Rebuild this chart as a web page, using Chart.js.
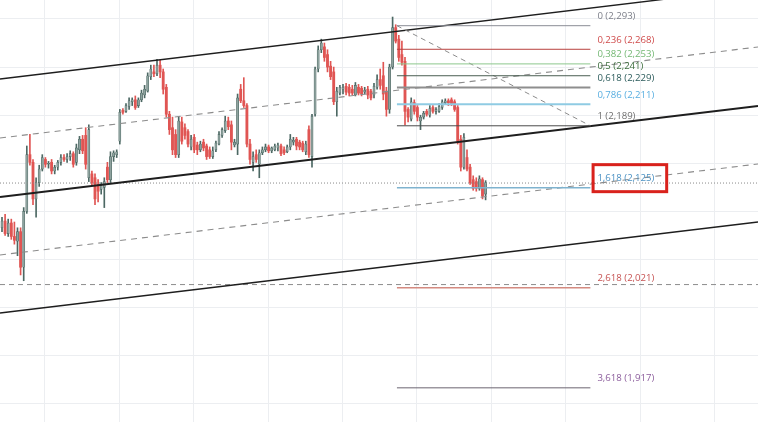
<!DOCTYPE html>
<html>
<head>
<meta charset="utf-8">
<script src="https://cdn.jsdelivr.net/npm/chart.js@4.4.1/dist/chart.umd.min.js"></script>
<style>
html,body{margin:0;padding:0;background:#ffffff;}
#wrap{width:758px;height:422px;position:relative;}
</style>
</head>
<body>
<div id="wrap"><canvas id="c"></canvas></div>
<script>
// ---- candle data (price) ----
const openP = [
 2083,2090,2077,2088,2074,2069,2079,2042,2100,2159,
 2151,2113,2130,2144,2154,2149,2151,2142,2146,2151,
 2156,2154,2157,2160,2151,2164,2175,2179,2135,2139,
 2135,2128,2123,2125,2146,2133,2157,2159,2173,2205,
 2204,2209,2214,2216,2210,2216,2221,2225,2240,2245,
 2243,2252,2245,2229,2201,2187,2180,2159,2193,2187,
 2183,2167,2177,2169,2164,2172,2168,2164,2157,2164,
 2170,2179,2184,2194,2190,2169,2170,2227,2215,2210,
 2170,2151,2159,2149,2161,2164,2167,2163,2164,2166,
 2168,2164,2162,2167,2172,2175,2172,2171,2162,2185,
 2157,2201,2248,2268,2271,2263,2251,2245,2214,2223,
 2227,2230,2229,2227,2221,2229,2228,2224,2227,2225,
 2221,2229,2237,2241,2225,2206,2250,2291,2279,2263,
 2256,2206,2196,2213,2208,2194,2198,2204,2200,2208,
 2204,2204,2208,2213,2215,2216,2214,2208,2175,2146,
 2156,2146,2133,2131,2124,2133,2118
];
const highP = [
 2094,2097,2092,2092,2089,2083,2083,2104,2168,2180,
 2154,2135,2148,2159,2156,2152,2154,2148,2153,2159,
 2159,2160,2163,2162,2170,2178,2179,2187,2190,2142,
 2139,2133,2130,2135,2151,2162,2163,2164,2206,2207,
 2212,2218,2218,2220,2218,2226,2231,2244,2252,2252,
 2258,2257,2248,2232,2204,2198,2185,2198,2198,2191,
 2185,2179,2180,2172,2173,2175,2170,2167,2167,2173,
 2183,2187,2199,2198,2194,2175,2222,2232,2239,2212,
 2175,2162,2164,2164,2167,2170,2169,2167,2170,2171,
 2170,2167,2169,2180,2177,2177,2174,2173,2173,2189,
 2201,2250,2272,2279,2275,2268,2256,2250,2229,2231,
 2232,2233,2232,2231,2234,2232,2230,2229,2230,2227,
 2233,2242,2248,2255,2229,2253,2302,2294,2283,2277,
 2260,2208,2218,2216,2210,2200,2204,2206,2210,2210,
 2208,2212,2216,2217,2217,2218,2216,2210,2179,2181,
 2164,2149,2137,2135,2137,2135,2132
];
const lowP = [
 2079,2075,2074,2071,2066,2054,2034,2028,2098,2148,
 2107,2094,2126,2142,2146,2145,2139,2139,2143,2148,
 2152,2151,2153,2146,2148,2160,2160,2144,2131,2127,
 2107,2110,2118,2104,2130,2130,2152,2156,2170,2201,
 2203,2206,2210,2206,2208,2214,2218,2224,2237,2240,
 2241,2239,2222,2198,2180,2159,2156,2156,2170,2175,
 2167,2164,2161,2159,2162,2163,2154,2155,2155,2162,
 2169,2177,2182,2185,2164,2167,2159,2213,2208,2167,
 2149,2142,2151,2135,2159,2162,2161,2161,2163,2163,
 2158,2159,2161,2164,2169,2164,2164,2162,2159,2156,
 2146,2199,2245,2265,2256,2245,2237,2211,2199,2221,
 2222,2221,2220,2221,2220,2221,2220,2222,2217,2216,
 2218,2227,2227,2216,2199,2202,2248,2275,2256,2252,
 2190,2193,2194,2201,2194,2185,2196,2199,2198,2202,
 2201,2203,2206,2211,2210,2210,2204,2170,2142,2144,
 2142,2128,2122,2121,2122,2113,2112
];
const closeP = [
 2090,2077,2088,2074,2070,2079,2042,2100,2159,2151,
 2113,2130,2144,2156,2149,2150,2142,2146,2151,2156,
 2154,2157,2160,2149,2166,2175,2163,2149,2185,2130,
 2113,2121,2127,2131,2133,2157,2161,2162,2203,2203,
 2210,2215,2216,2208,2216,2223,2227,2241,2248,2243,
 2252,2245,2227,2201,2185,2164,2159,2194,2173,2179,
 2170,2175,2164,2164,2170,2166,2157,2157,2163,2171,
 2180,2185,2194,2188,2172,2172,2218,2215,2210,2170,
 2154,2157,2154,2161,2164,2167,2163,2166,2168,2169,
 2160,2161,2167,2175,2174,2168,2167,2164,2170,2159,
 2199,2248,2268,2275,2260,2250,2240,2214,2225,2229,
 2229,2224,2223,2223,2231,2223,2222,2226,2221,2218,
 2230,2237,2231,2222,2206,2250,2291,2277,2260,2255,
 2204,2198,2214,2204,2198,2198,2202,2201,2207,2204,
 2206,2209,2214,2215,2213,2212,2206,2173,2146,2177,
 2144,2130,2124,2124,2134,2116,2130
];

// ---- axis / grid values ----
const xMin = -0.645, xMax = 243.87;
const yMin = 1881.2, yMax = 2319.7;
const gridX = [13.85,37.85,61.85,85.85,109.85,133.85,157.85,181.85,205.85,229.85];
const gridY = [1900,1950,2000,2050,2100,2150,2200,2250,2300];

// ---- channel lines (price at left edge / right edge) ----
const channelStart = [2237.6, 2176.3, 2115.0, 2054.8, 1994.5];
const channelEnd   = [2332.2, 2270.9, 2209.6, 2149.3, 2089.0];
const channelKind  = ['solid','dash','solidBold','dash','solid'];

// ---- fibonacci ----
const fibStartX = 127.4, fibEndX = 189.8;
const fibHigh = 2293, fibLow = 2189;
const fibLevels = [2293, 2268.5, 2253.3, 2241, 2228.7, 2211.3, 2189, 2124.7, 2020.7, 1916.7];
const fibLabels = ['0 (2,293)','0,236 (2,268)','0,382 (2,253)','0,5 (2,241)','0,618 (2,229)','0,786 (2,211)','1 (2,189)','1,618 (2,125)','2,618 (2,021)','3,618 (1,917)'];
const fibLineColors = ['#8a8d96','#b8403e','#8cc88c','#4a5e52','#8e8e8e','#8fcbe3','#4b4b4b','#7fb3cf','#d48a80','#6c6470'];
const fibLineWidths = [1,1,1,1,2,2,1,1.5,1.5,1];
const fibTextColors = ['#7b7e88','#cf4a4a','#74b874','#3b6c3b','#2b5b5b','#58aee0','#6e6e6e','#4a91c3','#c65252','#8a5b9b'];
const highlightIndex = 7;

// ---- horizontal reference lines ----
const dashedLevel = 2024;
const lastPriceLevel = 2129.5;

const idx = openP.map((_, i) => i);
const isUp = i => closeP[i] >= openP[i];
const UP_FILL = '#8ea29e', UP_LINE = '#4c6863', DN = '#e05553';

const datasets = [];
// candle bodies
datasets.push({
  type:'bar', order:2, grouped:false, barThickness:2.2, minBarLength:1,
  data: idx.map(i => ({x:i, y:[openP[i], closeP[i]]})),
  backgroundColor: c => isUp(c.dataIndex) ? UP_FILL : DN,
  borderColor: c => isUp(c.dataIndex) ? UP_LINE : DN,
  borderWidth: c => isUp(c.dataIndex) ? 0.6 : 0,
  borderSkipped:false
});
// wicks
datasets.push({
  type:'bar', order:3, grouped:false, barThickness:1,
  data: idx.map(i => ({x:i, y:[lowP[i], highP[i]]})),
  backgroundColor: c => isUp(c.dataIndex) ? UP_LINE : DN,
  borderWidth:0
});

function lineDs(pts, color, width, dash, order){
  return {type:'line', order: order, data: pts, borderColor: color, borderWidth: width,
          borderDash: dash || [], pointRadius:0, fill:false, tension:0};
}
// channel
channelStart.forEach((s, k) => {
  const kind = channelKind[k];
  const col = kind === 'dash' ? '#8c8c8c' : '#1e1e1e';
  const w = kind === 'solidBold' ? 2 : (kind === 'dash' ? 1.1 : 1.4);
  datasets.push(lineDs([{x:xMin,y:s},{x:xMax,y:channelEnd[k]}], col, w, kind==='dash'?[6,5]:[], 1));
});
// horizontal dashed & dotted lines
datasets.push(lineDs([{x:xMin,y:dashedLevel},{x:xMax,y:dashedLevel}], '#8c8c8c', 1, [5,4], 1));
datasets.push(lineDs([{x:xMin,y:lastPriceLevel},{x:xMax,y:lastPriceLevel}], '#8a8a8a', 1, [1,2], 1));
// fib levels
fibLevels.forEach((lv, k) => {
  datasets.push(lineDs([{x:fibStartX,y:lv},{x:fibEndX,y:lv}], fibLineColors[k], fibLineWidths[k], [], 0));
});
// fib trend line
datasets.push(lineDs([{x:fibStartX,y:fibHigh},{x:fibEndX,y:fibLow}], '#8c8c8c', 1, [5,4], 0));

const fibLabelPlugin = {
  id:'fibLabels',
  afterDatasetsDraw(chart){
    const {ctx, scales:{x, y}} = chart;
    ctx.save();
    ctx.font = '9.6px "Open Sans", sans-serif';
    ctx.textBaseline = 'middle';
    const lx = x.getPixelForValue(fibEndX) + 7;
    fibLevels.forEach((lv, k) => {
      ctx.fillStyle = fibTextColors[k];
      ctx.fillText(fibLabels[k], lx, y.getPixelForValue(lv) - 9.5);
    });
    const hy = y.getPixelForValue(fibLevels[highlightIndex]);
    ctx.strokeStyle = '#d9221c';
    ctx.lineWidth = 3;
    ctx.strokeRect(lx - 4.3, hy - 23, 73.6, 27);
    ctx.restore();
  }
};

new Chart(document.getElementById('c'), {
  type:'bar',
  data:{datasets},
  options:{
    responsive:true, maintainAspectRatio:false, animation:false, devicePixelRatio:1,
    events:[],
    layout:{padding:0},
    plugins:{legend:{display:false}, tooltip:{enabled:false}},
    scales:{
      x:{type:'linear', min:xMin, max:xMax, offset:false,
         afterBuildTicks: s => { s.ticks = gridX.map(v => ({value:v})); },
         ticks:{display:false}, border:{display:false},
         grid:{color:'#eceef1', lineWidth:1, drawTicks:false, offset:false}},
      y:{type:'linear', min:yMin, max:yMax,
         afterBuildTicks: s => { s.ticks = gridY.map(v => ({value:v})); },
         ticks:{display:false}, border:{display:false},
         grid:{color:'#eceef1', lineWidth:1, drawTicks:false}}
    }
  },
  plugins:[fibLabelPlugin]
});
</script>
</body>
</html>
